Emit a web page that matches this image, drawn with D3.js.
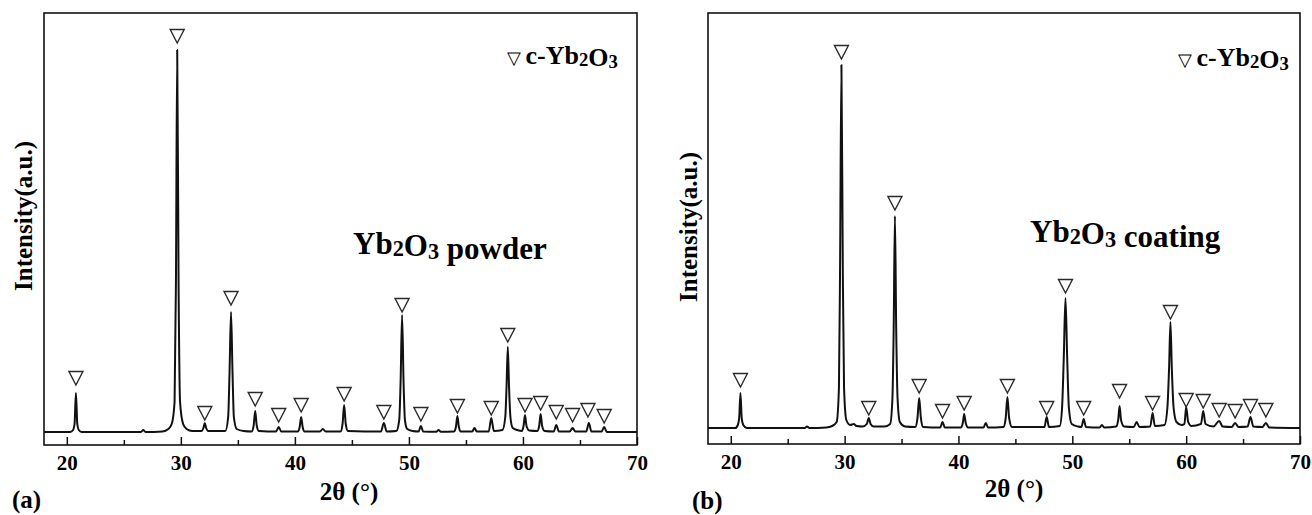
<!DOCTYPE html>
<html>
<head>
<meta charset="utf-8">
<script src="https://cdn.jsdelivr.net/npm/d3@7"></script>
<style>
  body { margin: 0; background: #fff; }
  svg { display: block; }
  text { font-family: "Liberation Serif", "Times New Roman", serif; font-weight: bold; fill: #000; }
</style>
</head>
<body>
<svg id="chart" width="1312" height="515"></svg>
<script>
// 2theta axis ticks
const majorTicks = [20, 30, 40, 50, 60, 70];
const minorTicks = [25, 35, 45, 55, 65];

// (a) powder pattern, [2theta, intensity a.u.]
const powderTrace = [
  [18, 0], [20.3, 0], [20.55, 20], [20.68, 80], [20.8, 390], [20.92, 80], [21.05, 20], [21.3, 0],
  [26.5, 0], [26.7, 20], [26.9, 0],
  [28.4, 5], [28.9, 30], [29.2, 80], [29.45, 300], [29.57, 1500], [29.68, 3820], [29.8, 1500], [29.93, 300], [30.2, 80], [30.5, 30], [31.0, 10],
  [31.8, 10], [31.98, 40], [32.1, 90], [32.22, 40], [32.4, 10],
  [33.9, 10], [34.15, 150], [34.27, 600], [34.4, 1200], [34.53, 600], [34.65, 150], [34.9, 30], [35.5, 10],
  [36.2, 5], [36.38, 60], [36.52, 210], [36.66, 60], [36.85, 10],
  [38.35, 5], [38.58, 50], [38.8, 5],
  [40.25, 5], [40.42, 50], [40.55, 150], [40.68, 50], [40.85, 5],
  [42.2, 5], [42.45, 30], [42.7, 5],
  [44.0, 5], [44.18, 80], [44.32, 270], [44.46, 80], [44.65, 10],
  [47.55, 5], [47.8, 90], [48.05, 5],
  [48.9, 10], [49.15, 120], [49.27, 500], [49.4, 1170], [49.53, 500], [49.65, 120], [49.85, 30], [50.3, 10],
  [50.85, 5], [51.05, 60], [51.25, 5],
  [52.4, 3], [52.6, 20], [52.8, 3],
  [53.95, 5], [54.12, 50], [54.25, 160], [54.38, 50], [54.55, 5],
  [55.55, 5], [55.75, 40], [55.95, 5],
  [57.0, 5], [57.22, 140], [57.45, 10],
  [58.2, 20], [58.45, 150], [58.56, 450], [58.67, 850], [58.78, 450], [58.9, 150], [59.1, 40], [59.5, 20],
  [59.9, 10], [60.05, 60], [60.18, 170], [60.31, 60], [60.55, 15],
  [61.25, 10], [61.42, 60], [61.55, 180], [61.68, 60], [61.9, 10],
  [62.7, 5], [62.92, 70], [63.15, 5],
  [64.1, 5], [64.35, 40], [64.6, 5],
  [65.55, 5], [65.78, 90], [66.0, 5],
  [66.9, 5], [67.12, 50], [67.35, 0],
  [70, 0]
];

// (b) coating pattern
const coatingTrace = [
  [18, 0], [20.4, 0], [20.62, 30], [20.74, 100], [20.85, 350], [20.96, 100], [21.1, 30], [21.4, 0],
  [26.5, 0], [26.7, 15], [26.9, 0],
  [28.4, 5], [28.9, 20], [29.3, 60], [29.5, 400], [29.6, 1600], [29.72, 3630], [29.84, 1600], [29.95, 400], [30.15, 80], [30.5, 30], [30.8, 40], [31.05, 20],
  [31.6, 15], [31.95, 40], [32.12, 100], [32.28, 40], [32.55, 15], [33.5, 15],
  [34.0, 40], [34.2, 300], [34.31, 1000], [34.42, 2120], [34.53, 1000], [34.65, 300], [34.85, 60], [35.3, 15],
  [36.2, 10], [36.4, 100], [36.55, 300], [36.7, 100], [36.9, 10],
  [38.4, 5], [38.6, 60], [38.8, 5],
  [40.2, 5], [40.38, 50], [40.5, 140], [40.64, 50], [40.85, 5],
  [42.2, 5], [42.4, 50], [42.6, 5],
  [43.95, 10], [44.15, 100], [44.3, 310], [44.45, 100], [44.7, 10],
  [47.55, 10], [47.75, 110], [47.95, 10],
  [48.9, 20], [49.1, 200], [49.25, 700], [49.4, 1300], [49.55, 700], [49.7, 200], [49.95, 40], [50.5, 15],
  [50.8, 10], [51.0, 90], [51.2, 10],
  [52.4, 5], [52.6, 30], [52.8, 5],
  [53.85, 15], [54.03, 80], [54.15, 220], [54.28, 80], [54.55, 15],
  [55.4, 10], [55.65, 60], [55.9, 10],
  [56.85, 15], [57.05, 150], [57.25, 20],
  [58.1, 30], [58.35, 200], [58.5, 600], [58.62, 1060], [58.74, 600], [58.9, 200], [59.15, 60], [59.6, 30],
  [59.85, 40], [60.0, 210], [60.18, 60], [60.45, 20],
  [61.3, 40], [61.5, 170], [61.7, 40], [62.4, 15],
  [62.9, 70], [63.2, 15], [64.0, 10], [64.3, 50], [64.6, 10],
  [65.4, 15], [65.65, 110], [65.9, 15], [66.7, 10], [67.0, 50], [67.3, 5],
  [70, 0]
];

// c-Yb2O3 markers: [2theta, level of the triangle tip]
const powderMarks = [
  [20.8, 470], [29.68, 3890], [32.1, 120], [34.4, 1270], [36.52, 260], [38.58, 100], [40.55, 200],
  [44.32, 310], [47.8, 130], [49.4, 1200], [51.05, 110], [54.25, 190], [57.22, 170], [58.67, 900],
  [60.18, 200], [61.55, 220], [62.92, 130], [64.35, 100], [65.7, 150], [67.12, 90]
];
const coatingMarks = [
  [20.85, 410], [29.72, 3690], [32.12, 130], [34.42, 2180], [36.55, 350], [38.6, 100], [40.5, 180],
  [44.3, 350], [47.75, 130], [49.4, 1350], [51.0, 130], [54.15, 300], [57.05, 180], [58.62, 1090],
  [60.0, 210], [61.5, 200], [62.9, 110], [64.3, 100], [65.65, 150], [67.0, 110]
];

const svg = d3.select("#chart");

function richText(sel, parts, size) {
  parts.forEach(function (p) {
    if (p.sub) {
      sel.append("tspan").attr("font-size", size * 0.72).attr("dy", size * 0.08).text(p.t);
      sel.append("tspan").attr("font-size", size).attr("dy", -size * 0.08).text("");
    } else {
      sel.append("tspan").attr("font-size", size).text(p.t);
    }
  });
}

function drawPanel(cfg) {
  var g = svg.append("g");
  var x = d3.scaleLinear().domain([18, 70]).range([cfg.left, cfg.right]);
  var y = d3.scaleLinear().domain(cfg.yDomain).range([cfg.bottom, cfg.top]);

  g.append("clipPath").attr("id", cfg.id + "-clip")
    .append("rect")
    .attr("x", cfg.left).attr("y", cfg.top)
    .attr("width", cfg.right - cfg.left).attr("height", cfg.bottom - cfg.top);

  var line = d3.line()
    .x(function (d) { return x(d[0]); })
    .y(function (d) { return y(d[1]); })
    .curve(d3.curveMonotoneX);

  g.append("path")
    .datum(cfg.trace)
    .attr("clip-path", "url(#" + cfg.id + "-clip)")
    .attr("d", line)
    .attr("fill", "none")
    .attr("stroke", "#111")
    .attr("stroke-width", 2)
    .attr("stroke-linejoin", "round");

  g.selectAll(".mark").data(cfg.marks).enter().append("path")
    .attr("class", "mark")
    .attr("d", function (d) {
      var px = x(d[0]), py = y(d[1]);
      return "M" + (px - 7) + "," + (py - 13.5) + "L" + (px + 7) + "," + (py - 13.5) + "L" + px + "," + py + "Z";
    })
    .attr("fill", "#fff")
    .attr("stroke", "#2a2a2a")
    .attr("stroke-width", 1.4);

  // inward ticks
  var ax = g.append("g").attr("transform", "translate(0," + cfg.bottom + ")")
    .call(d3.axisBottom(x).tickValues(majorTicks).tickSizeInner(-8).tickSizeOuter(0)
      .tickPadding(10).tickFormat(d3.format("d")));
  ax.select(".domain").remove();
  ax.selectAll("line").attr("stroke", "#111").attr("stroke-width", 1.5);
  ax.selectAll("text").attr("font-size", 21).attr("font-family", null).attr("fill", "#000");

  var mx = g.append("g").attr("transform", "translate(0," + cfg.bottom + ")")
    .call(d3.axisBottom(x).tickValues(minorTicks).tickSizeInner(-5).tickSizeOuter(0).tickFormat(""));
  mx.select(".domain").remove();
  mx.selectAll("line").attr("stroke", "#111").attr("stroke-width", 1.5);

  g.append("rect")
    .attr("x", cfg.left).attr("y", cfg.top)
    .attr("width", cfg.right - cfg.left).attr("height", cfg.bottom - cfg.top)
    .attr("fill", "none").attr("stroke", "#111").attr("stroke-width", 1.6);

  // axis titles
  g.append("text")
    .attr("transform", "translate(" + cfg.yTitle[0] + "," + cfg.yTitle[1] + ") rotate(-90)")
    .attr("text-anchor", "middle").attr("dy", "0.35em")
    .attr("font-size", 25).text("Intensity(a.u.)");

  g.append("text")
    .attr("x", cfg.xTitle[0]).attr("y", cfg.xTitle[1])
    .attr("text-anchor", "middle").attr("font-size", 25).text("2\u03b8 (\u00b0)");

  g.append("text")
    .attr("x", cfg.tag[0]).attr("y", cfg.tag[1])
    .attr("font-size", 25).text(cfg.tagText);

  // legend
  var lg = g.append("text").attr("x", cfg.legend[0]).attr("y", cfg.legend[1]);
  lg.append("tspan").attr("font-size", 18).attr("font-weight", "normal").text("\u25bd ");
  richText(lg, [{ t: "c-Yb" }, { t: "2", sub: true }, { t: "O" }, { t: "3", sub: true }], 26);

  // sample name
  var nm = g.append("text").attr("x", cfg.name[0]).attr("y", cfg.name[1]);
  richText(nm, [{ t: "Yb" }, { t: "2", sub: true }, { t: "O" }, { t: "3", sub: true }, { t: " " + cfg.nameText }], 31);
}

drawPanel({
  id: "pa", left: 44, right: 637, top: 13, bottom: 445,
  yDomain: [-130, 4190],
  trace: powderTrace, marks: powderMarks,
  yTitle: [23, 216], xTitle: [349, 500], tag: [12, 508], tagText: "(a)",
  legend: [507, 64], name: [353, 254], nameText: "powder"
});

drawPanel({
  id: "pb", left: 708, right: 1300, top: 13, bottom: 444,
  yDomain: [-160, 4150],
  trace: coatingTrace, marks: coatingMarks,
  yTitle: [688, 227], xTitle: [1014, 497], tag: [692, 509], tagText: "(b)",
  legend: [1178, 66], name: [1030, 242], nameText: "coating"
});
</script>
</body>
</html>
